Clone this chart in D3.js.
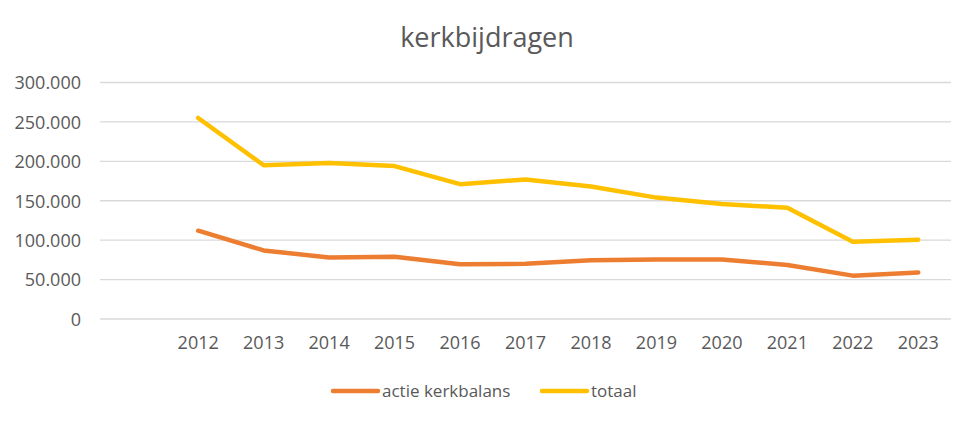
<!DOCTYPE html>
<html><head><meta charset="utf-8">
<script src="https://cdn.jsdelivr.net/npm/d3@7"></script>
<style>html,body{margin:0;padding:0;background:#fff;}</style>
</head><body>
<svg id="c" width="975" height="421"></svg>
<script>
const categories = ["", "2012","2013","2014","2015","2016","2017","2018","2019","2020","2021","2022","2023"];
const years = ["2012","2013","2014","2015","2016","2017","2018","2019","2020","2021","2022","2023"];
const actieKerkbalans = [112000, 87000, 78000, 79000, 69500, 70000, 74500, 75500, 75500, 68500, 55000, 59000];
const totaal = [255000, 195000, 198000, 194000, 171000, 177000, 168000, 154000, 146000, 141000, 98000, 100500];
const yTicks = [0, 50000, 100000, 150000, 200000, 250000, 300000];
const seriesNames = ["actie kerkbalans", "totaal"];
const colors = ["#ED7D31", "#FFC000"];

const font = "'Open Sans', 'Noto Sans', sans-serif";
const svg = d3.select("#c");
const x = d3.scaleBand().domain(categories).range([100, 951]);
const y = d3.scaleLinear().domain([0, 300000]).range([319, 82.5]);
const fmt = v => v === 0 ? "0" : d3.format(",")(v).replace(/,/g, ".");

// gridlines
svg.append("g").selectAll("line").data(yTicks).join("line")
  .attr("x1", 100).attr("x2", 951)
  .attr("y1", d => y(d)).attr("y2", d => y(d))
  .attr("stroke", "#d9d9d9").attr("stroke-width", 1.3);

// y axis labels
const yAxis = d3.axisLeft(y).tickValues(yTicks).tickFormat(fmt).tickSize(0).tickPadding(0);
const gy = svg.append("g").attr("transform", "translate(81,0)").call(yAxis);
gy.select(".domain").remove();
gy.selectAll("text").attr("fill", "#595959").attr("font-size", 18).attr("font-family", font).attr("dy", "0.35em");

// x axis labels
const xAxis = d3.axisBottom(x).tickSize(0).tickPadding(0);
const gx = svg.append("g").attr("transform", "translate(0,336)").call(xAxis);
gx.select(".domain").remove();
gx.selectAll("text").attr("fill", "#595959").attr("font-size", 18).attr("font-family", font).attr("dy", "0.71em");

// lines
const line = d3.line().x((d, i) => x(years[i]) + x.bandwidth() / 2).y(d => y(d));
[actieKerkbalans, totaal].forEach((s, k) => {
  svg.append("path").datum(s).attr("d", line)
    .attr("fill", "none").attr("stroke", colors[k]).attr("stroke-width", 4.5)
    .attr("stroke-linejoin", "round").attr("stroke-linecap", "round");
});

// title
svg.append("text").attr("x", 487).attr("y", 47).attr("text-anchor", "middle")
  .attr("fill", "#595959").attr("font-size", 27).attr("font-family", font).text("kerkbijdragen");

// legend
const legendX = [333, 542];
seriesNames.forEach((n, k) => {
  const g = svg.append("g").attr("transform", `translate(${legendX[k]},391)`);
  g.append("line").attr("x1", 0).attr("x2", 45).attr("y1", 0).attr("y2", 0)
    .attr("stroke", colors[k]).attr("stroke-width", 4.5).attr("stroke-linecap", "round");
  g.append("text").attr("x", 49).attr("y", 0).attr("dy", "0.35em")
    .attr("fill", "#595959").attr("font-size", 17).attr("font-family", font).text(n);
});
</script>
</body></html>
